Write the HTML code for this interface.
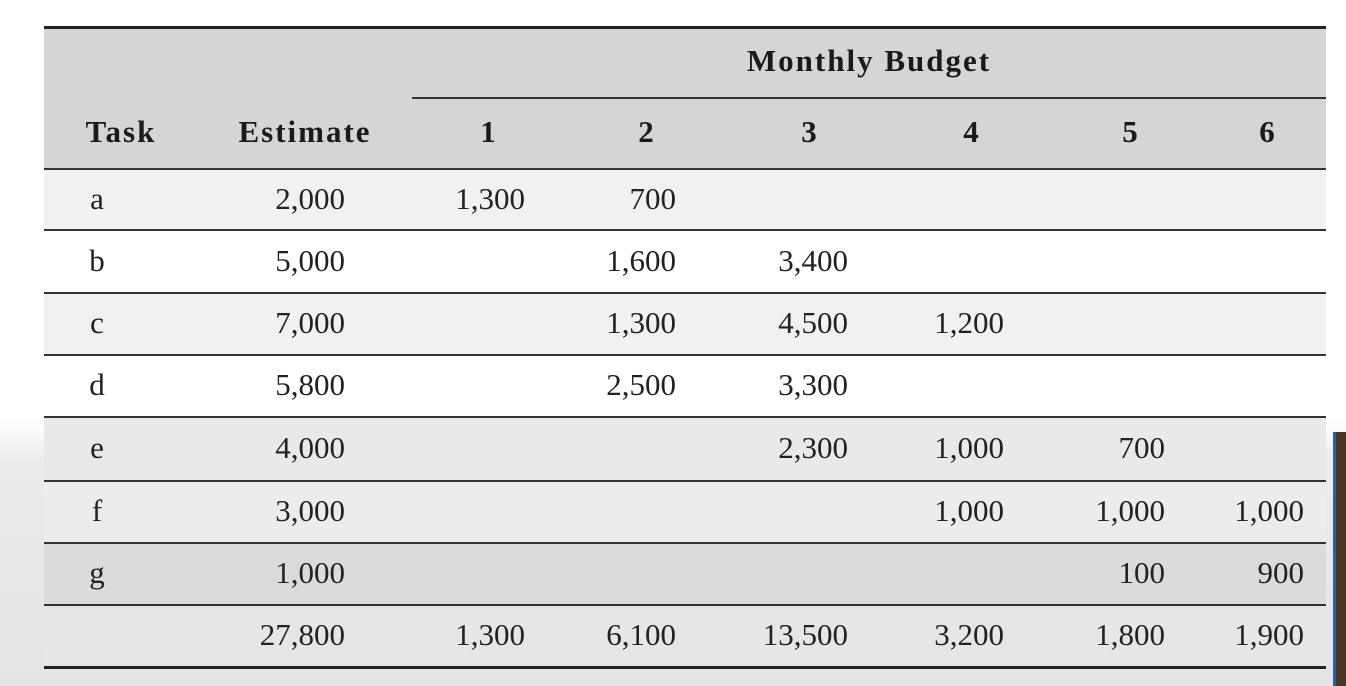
<!DOCTYPE html>
<html><head><meta charset="utf-8">
<style>
html,body{margin:0;padding:0}
body{width:1346px;height:686px;overflow:hidden;position:relative;
background:linear-gradient(180deg,#fff 0,#fff 420px,#ececec 460px,#e4e4e4 686px);
font-family:"Liberation Serif",serif;color:#222}
.abs{position:absolute}
.row{position:absolute;left:44px;width:1282px}
.hl{position:absolute;left:44px;width:1282px;height:2px;background:#333}
.t{position:absolute;font-size:31px;line-height:36px;white-space:nowrap}
.b{font-weight:bold;color:#1a1a1a;letter-spacing:2px}
</style></head>
<body>
<div class="abs" style="left:1333px;top:432px;width:13px;height:254px;background:#4a3525;border-left:3px solid #2a5fa8"></div>
<div id="tbl"></div>
<script>
const tasks=['a','b','c','d','e','f','g'];
const estimates=['2,000','5,000','7,000','5,800','4,000','3,000','1,000'];
const monthly=[
['1,300','700','','','',''],
['','1,600','3,400','','',''],
['','1,300','4,500','1,200','',''],
['','2,500','3,300','','',''],
['','','2,300','1,000','700',''],
['','','','1,000','1,000','1,000'],
['','','','','100','900']];
const totals=['27,800','1,300','6,100','13,500','3,200','1,800','1,900'];
const months=['1','2','3','4','5','6'];

const tbl=document.getElementById('tbl');
const rowTops=[169,230,293,355,417,481,543,605,667];
const rowBg=['#f1f1f1','#ffffff','#f1f1f1','#ffffff','#e9e9e9','#ececec','#dbdbdb','#e6e6e6'];
const monthCenters=[489,647,810,972,1131,1268];
const monthRights=[525,676,848,1004,1165,1304];
function add(cls,style,text,name){
  const d=document.createElement('div');d.className=cls;d.style.cssText=style;
  if(text!==undefined)d.textContent=text;
  
  
  tbl.appendChild(d);return d;}
add('row','top:28px;height:141px;background:#d4d5d6',undefined,'header-band');
add('hl','top:26px;height:3px;background:#222',undefined,'top-rule');
add('abs','left:412px;top:97px;width:914px;height:2px;background:#333',undefined,'monthly-budget-rule');
add('t b','left:869px;top:43px;transform:translateX(-50%)','Monthly Budget','monthly-budget-header');
add('t b','left:121px;top:114px;transform:translateX(-50%)','Task','task-header');
add('t b','left:305px;top:114px;transform:translateX(-50%)','Estimate','estimate-header');
months.forEach((m,i)=>add('t b','left:'+monthCenters[i]+'px;top:114px;transform:translateX(-50%)',m,'month-header-'+m));
for(let r=0;r<8;r++){
  const top=rowTops[r],h=rowTops[r+1]-top;
  add('row','top:'+top+'px;height:'+h+'px;background:'+rowBg[r],undefined,r<7?'row-'+tasks[r]:'total-row');
  const ty=top+(h-36)/2-1;
  if(r<7){
    add('t','left:97px;top:'+ty+'px;transform:translateX(-50%)',tasks[r],'task-'+tasks[r]);
    add('t','right:'+(1346-345)+'px;top:'+ty+'px',estimates[r],'estimate-'+tasks[r]);
    monthly[r].forEach((v,i)=>{if(v)add('t','right:'+(1346-monthRights[i])+'px;top:'+ty+'px',v,'budget-'+tasks[r]+'-m'+(i+1));});
  }else{
    add('t','right:'+(1346-345)+'px;top:'+ty+'px',totals[0],'total-estimate');
    for(let i=0;i<6;i++)add('t','right:'+(1346-monthRights[i])+'px;top:'+ty+'px',totals[i+1],'total-m'+(i+1));
  }
}
for(let r=0;r<8;r++){add('hl','top:'+(rowTops[r]-1)+'px',undefined,'row-rule');}
add('hl','top:666px;height:3px;background:#222',undefined,'bottom-rule');
</script>
</body></html>
